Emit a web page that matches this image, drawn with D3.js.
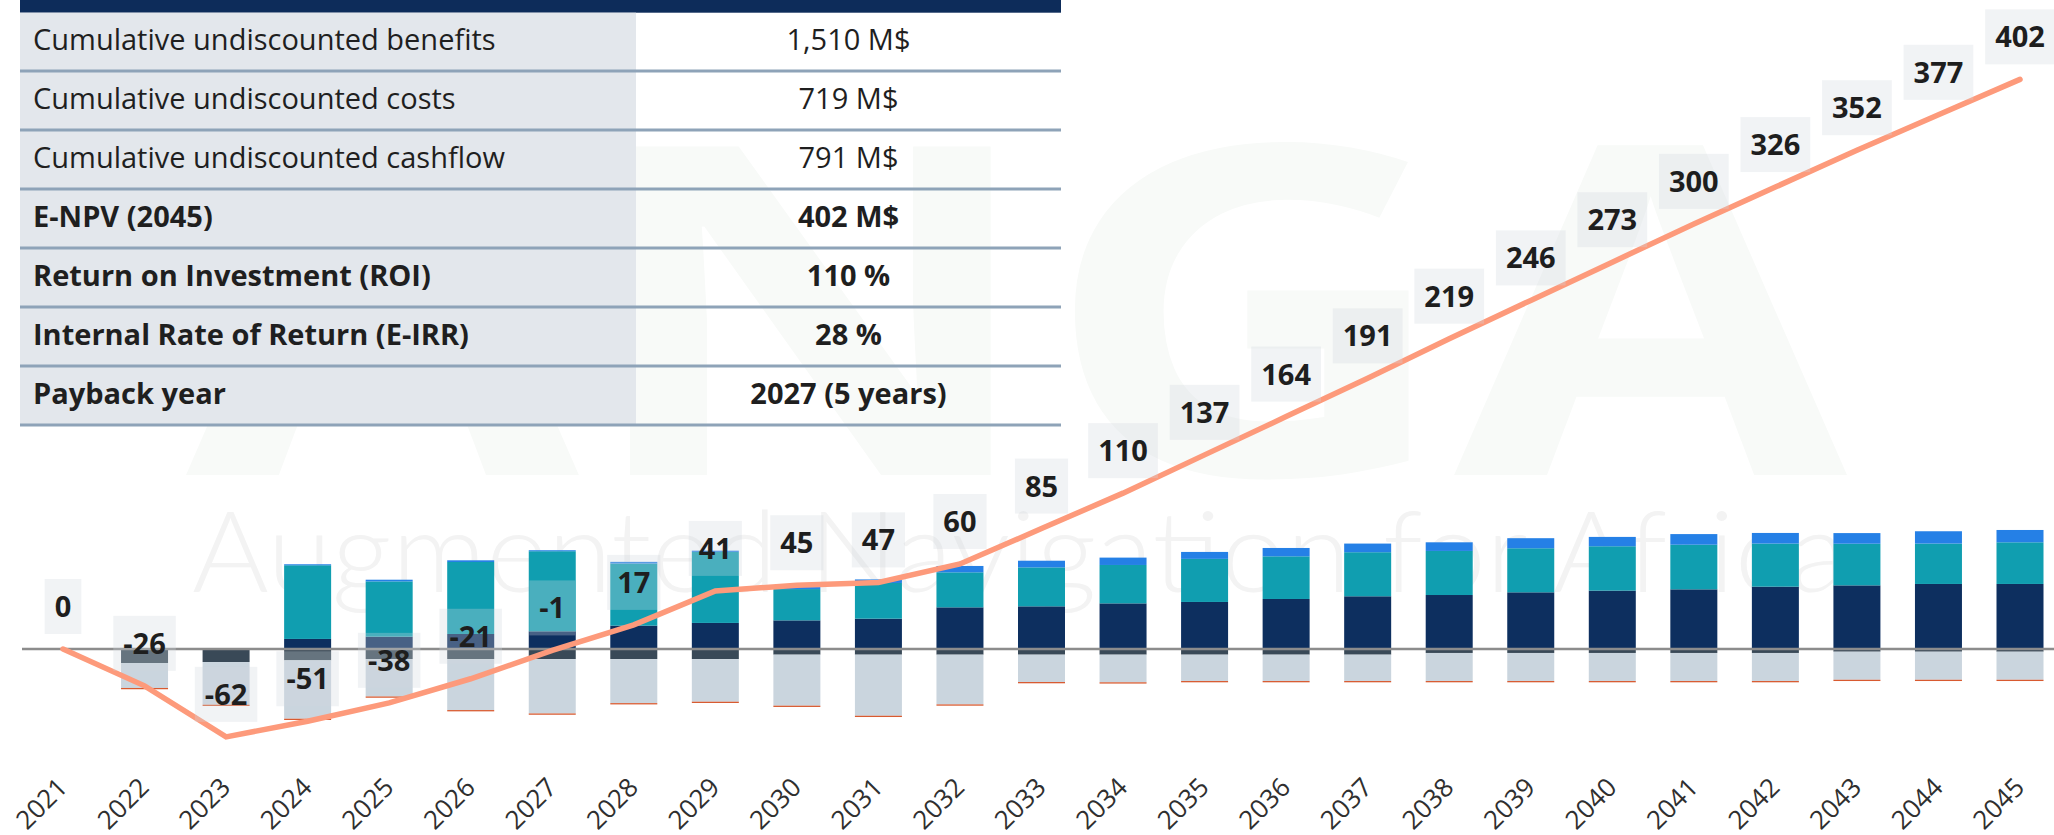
<!DOCTYPE html>
<html>
<head>
<meta charset="utf-8">
<script src="https://cdn.jsdelivr.net/npm/d3@7"></script>
<style>
  body { margin: 0; background: #fff; overflow: hidden; }
  svg { display: block; font-family: "Open Sans", sans-serif; }
</style>
</head>
<body>
<svg id="chart" width="2054" height="835"></svg>
<script>
// ---- data (M$) ----
var years = ["2021", "2022", "2023", "2024", "2025", "2026", "2027", "2028", "2029", "2030", "2031", "2032", "2033",
             "2034", "2035", "2036", "2037", "2038", "2039", "2040", "2041", "2042", "2043", "2044", "2045"];

// cumulative E-NPV line
var cumulative = [0, -26, -62, -51, -38, -21, -1, 17, 41, 45, 47, 60, 85, 110, 137, 164, 191, 219, 246, 273, 300, 326, 352, 377, 402];

// annual benefits (stacked up)
var benefitsNavy = [0, 0, 0, 7.1, 8.7, 10.6, 12.5, 16.5, 18.4, 20.2, 21.4, 29.4, 30.1, 32.2, 33.2, 35.3, 37.2, 38.1, 40.0, 41.2, 42.1, 44.0, 44.9, 45.9, 45.9];
var benefitsTeal = [0, 0, 0, 52.0, 39.0, 50.8, 56.5, 43.8, 50.1, 22.1, 25.2, 24.7, 27.5, 27.1, 30.4, 30.1, 31.1, 31.1, 31.1, 31.3, 31.5, 30.4, 29.4, 28.5, 29.4];
var benefitsBlue = [0, 0, 0, 0.7, 1.2, 1.2, 0.7, 1.2, 0.9, 1.4, 2.5, 4.5, 4.7, 5.2, 4.9, 5.9, 6.1, 6.1, 7.1, 6.6, 7.5, 7.5, 7.5, 8.7, 8.7];

// annual costs (stacked down)
var costsDark   = [0, 9.9, 9.2, 8.0, 7.1, 7.1, 7.1, 7.1, 7.1, 4.0, 4.0, 4.0, 4.0, 4.0, 4.0, 4.0, 4.0, 2.8, 2.8, 2.8, 2.8, 2.8, 1.9, 1.9, 1.9];
var costsLight  = [0, 17.6, 30.1, 41.2, 26.4, 36.0, 38.4, 31.1, 30.1, 36.0, 43.1, 35.1, 19.3, 19.5, 18.6, 18.6, 18.6, 19.8, 19.8, 19.8, 19.8, 19.8, 19.8, 19.8, 19.8];
var costsOrange = [0, 0.9, 0.9, 0.9, 0.9, 0.9, 0.9, 0.9, 0.9, 0.9, 0.9, 0.9, 0.9, 0.9, 0.9, 0.9, 0.9, 0.9, 0.9, 0.9, 0.9, 0.9, 0.9, 0.9, 0.9];

// summary table
var tableLabels = ["Cumulative undiscounted benefits", "Cumulative undiscounted costs", "Cumulative undiscounted cashflow",
                   "E-NPV (2045)", "Return on Investment (ROI)", "Internal Rate of Return (E-IRR)", "Payback year"];
var tableValues = ["1,510 M$", "719 M$", "791 M$", "402 M$", "110 %", "28 %", "2027 (5 years)"];
var tableBold = [false, false, false, true, true, true, true];

var svg = d3.select("#chart");

// scales
var x = d3.scalePoint().domain(years).range([63, 2020]);
var y = d3.scaleLinear().domain([-100, 450]).range([790.7, 11.35]);
var barW = 47;

// ---- faint watermark ----
svg.append("text")
    .attr("x", 186).attr("y", 475)
    .attr("textLength", 1661).attr("lengthAdjust", "spacingAndGlyphs")
    .attr("font-size", 460).attr("font-weight", 700)
    .attr("fill", "#f8faf8")
    .text("ANGA");

svg.append("text")
    .attr("x", 192).attr("y", 592)
    .attr("textLength", 1655).attr("lengthAdjust", "spacingAndGlyphs")
    .attr("font-family", "Lato, sans-serif")
    .attr("font-size", 112).attr("font-weight", 300)
    .attr("fill", "#f3f3f3")
    .text("Augmented Navigation for Africa");

// ---- stacked bars ----
var rows = years.map(function (yr, i) {
    return {
        year: yr,
        navy: benefitsNavy[i], teal: benefitsTeal[i], blue: benefitsBlue[i],
        dark: -costsDark[i], light: -costsLight[i], orange: -costsOrange[i]
    };
});

var keys = ["navy", "teal", "blue", "dark", "light", "orange"];
var colors = {navy: "#0d2f5f", teal: "#109eb0", blue: "#2580e6", dark: "#394957", light: "#cad5de", orange: "#d85a30"};

var series = d3.stack().keys(keys).offset(d3.stackOffsetDiverging)(rows);

svg.append("g").selectAll("g")
    .data(series)
    .enter().append("g")
    .attr("fill", function (d) { return colors[d.key]; })
    .selectAll("rect")
    .data(function (d) { return d; })
    .enter().append("rect")
    .attr("x", function (d) { return x(d.data.year) - barW / 2; })
    .attr("width", barW)
    .attr("y", function (d) { return y(Math.max(d[0], d[1])); })
    .attr("height", function (d) { return Math.abs(y(d[0]) - y(d[1])); });

// zero line
svg.append("line")
    .attr("x1", 22).attr("x2", 2054)
    .attr("y1", y(0)).attr("y2", y(0))
    .attr("stroke", "#8c8c8c")
    .attr("stroke-width", 2.5);

// ---- cumulative line ----
var line = d3.line()
    .x(function (d, i) { return x(years[i]); })
    .y(function (d) { return y(d); });

svg.append("path")
    .datum(cumulative)
    .attr("d", line)
    .attr("fill", "none")
    .attr("stroke", "#fd9a7b")
    .attr("stroke-width", 5.5)
    .attr("stroke-linecap", "round");

// value labels with light boxes
var labels = svg.append("g").selectAll("g")
    .data(cumulative)
    .enter().append("g");

labels.each(function (d, i) {
    var g = d3.select(this);
    var cx = x(years[i]);
    var py = y(d);
    var t = g.append("text")
        .attr("x", cx)
        .attr("y", py - 32)
        .attr("text-anchor", "middle")
        .attr("font-size", 29)
        .attr("font-weight", 700)
        .attr("fill", "#1e1e1e")
        .text(d);
    var w = t.node().getComputedTextLength() + 20;
    g.insert("rect", "text")
        .attr("x", cx - w / 2)
        .attr("y", py - 70)
        .attr("width", w)
        .attr("height", 55)
        .attr("fill", "rgb(210,216,222)")
        .attr("fill-opacity", 0.3);
});

// x axis labels, rotated
svg.append("g").selectAll("text")
    .data(years)
    .enter().append("text")
    .attr("transform", function (d) { return "translate(" + (x(d) + 6) + ",789) rotate(-45)"; })
    .attr("text-anchor", "end")
    .attr("font-size", 26)
    .attr("fill", "#2f2f2f")
    .text(function (d) { return d; });

// ---- summary table ----
var table = svg.append("g");
var tx0 = 20, tx1 = 1061, split = 636, rowH = 59, firstBottom = 71;

table.append("rect")
    .attr("x", tx0).attr("y", 0)
    .attr("width", tx1 - tx0).attr("height", 12.7)
    .attr("fill", "#0d2c5a");

table.append("rect")
    .attr("x", tx0).attr("y", 12.7)
    .attr("width", split - tx0).attr("height", firstBottom + rowH * 6 - 12.7)
    .attr("fill", "#e3e7ec");

tableLabels.forEach(function (lab, i) {
    var bottom = firstBottom + rowH * i;
    table.append("text")
        .attr("x", 33).attr("y", bottom - 21)
        .attr("font-size", 29)
        .attr("font-weight", tableBold[i] ? 700 : 400)
        .attr("fill", "#1f1f1f")
        .text(lab);
    table.append("text")
        .attr("x", (split + tx1) / 2).attr("y", bottom - 21)
        .attr("text-anchor", "middle")
        .attr("font-size", 29)
        .attr("font-weight", tableBold[i] ? 700 : 400)
        .attr("fill", "#1f1f1f")
        .text(tableValues[i]);
    table.append("line")
        .attr("x1", tx0).attr("x2", tx1)
        .attr("y1", bottom).attr("y2", bottom)
        .attr("stroke", "#8ea3b8")
        .attr("stroke-width", 3);
});
</script>
</body>
</html>
